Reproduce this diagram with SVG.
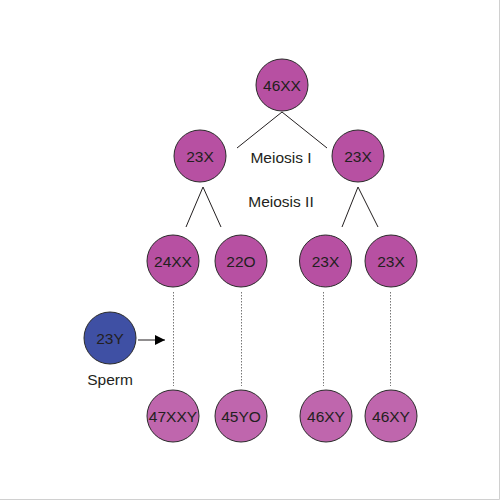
<svg xmlns="http://www.w3.org/2000/svg" width="500" height="500" viewBox="0 0 500 500">
<defs>
<style>
.cell{fill:#b750a2;stroke:#2b2b2b;stroke-width:1}
.cell2{fill:#bf66ad;stroke:#2b2b2b;stroke-width:1}
.sperm{fill:#3f50a4;stroke:#2b2b2b;stroke-width:1}
.t{font-family:"Liberation Sans",Arial,sans-serif;font-size:15.5px;fill:#231f20;text-anchor:middle;dominant-baseline:central}
.ln{stroke:#231f20;stroke-width:1;fill:none}
.dot{stroke:#777;stroke-width:1;stroke-dasharray:1.5 1.5;fill:none}
</style>
<marker id="ah" viewBox="0 0 10 10" refX="10" refY="5" markerWidth="10" markerHeight="10" markerUnits="userSpaceOnUse" orient="auto">
<path d="M0,0 L10,5 L0,10 Z" fill="#000"/>
</marker>
</defs>
<rect x="0" y="0" width="500" height="500" fill="#fff"/>
<path d="M499.5,0 V499.5 H0" stroke="#d0d0d0" stroke-width="1" fill="none"/>
<g id="connectors">
<path class="ln" d="M237,148 L282,112 L327,148"/>
<path class="ln" d="M186,227 L203,187 L221,227"/>
<path class="ln" d="M342,227 L358,187 L378,227"/>
<line class="dot" x1="173.5" y1="292" x2="173.5" y2="386"/>
<line class="dot" x1="241.5" y1="292" x2="241.5" y2="386"/>
<line class="dot" x1="323.5" y1="292" x2="323.5" y2="386"/>
<line class="dot" x1="390.5" y1="292" x2="390.5" y2="386"/>
<line class="ln" x1="138" y1="340" x2="165" y2="340" stroke="#000" marker-end="url(#ah)"/>
</g>
<g id="labels">
<text class="t" x="281" y="157">Meiosis I</text>
<text class="t" x="281" y="201">Meiosis II</text>
<text class="t" x="110" y="379">Sperm</text>
</g>
<g id="n46XX"><circle class="cell" cx="282" cy="85" r="26"/><text class="t" x="282" y="85">46XX</text></g>
<g id="n23X_l"><circle class="cell" cx="200" cy="156" r="26"/><text class="t" x="200" y="156">23X</text></g>
<g id="n23X_r"><circle class="cell" cx="358" cy="156" r="26"/><text class="t" x="358" y="156">23X</text></g>
<g id="n24XX"><circle class="cell" cx="173" cy="261" r="26"/><text class="t" x="173" y="261">24XX</text></g>
<g id="n22O"><circle class="cell" cx="241" cy="261" r="26"/><text class="t" x="241" y="261">22O</text></g>
<g id="n23X_a"><circle class="cell" cx="325.5" cy="261" r="26"/><text class="t" x="325.5" y="261">23X</text></g>
<g id="n23X_b"><circle class="cell" cx="391" cy="261" r="26"/><text class="t" x="391" y="261">23X</text></g>
<g id="n23Y"><circle class="sperm" cx="110" cy="338" r="26"/><text class="t" x="110" y="338">23Y</text></g>
<g id="n47XXY"><circle class="cell2" cx="173" cy="416" r="26"/><text class="t" x="173" y="416">47XXY</text></g>
<g id="n45YO"><circle class="cell2" cx="241" cy="416" r="26"/><text class="t" x="241" y="416">45YO</text></g>
<g id="n46XY_a"><circle class="cell2" cx="326" cy="416" r="26"/><text class="t" x="326" y="416">46XY</text></g>
<g id="n46XY_b"><circle class="cell2" cx="391" cy="416" r="26"/><text class="t" x="391" y="416">46XY</text></g>
</svg>
